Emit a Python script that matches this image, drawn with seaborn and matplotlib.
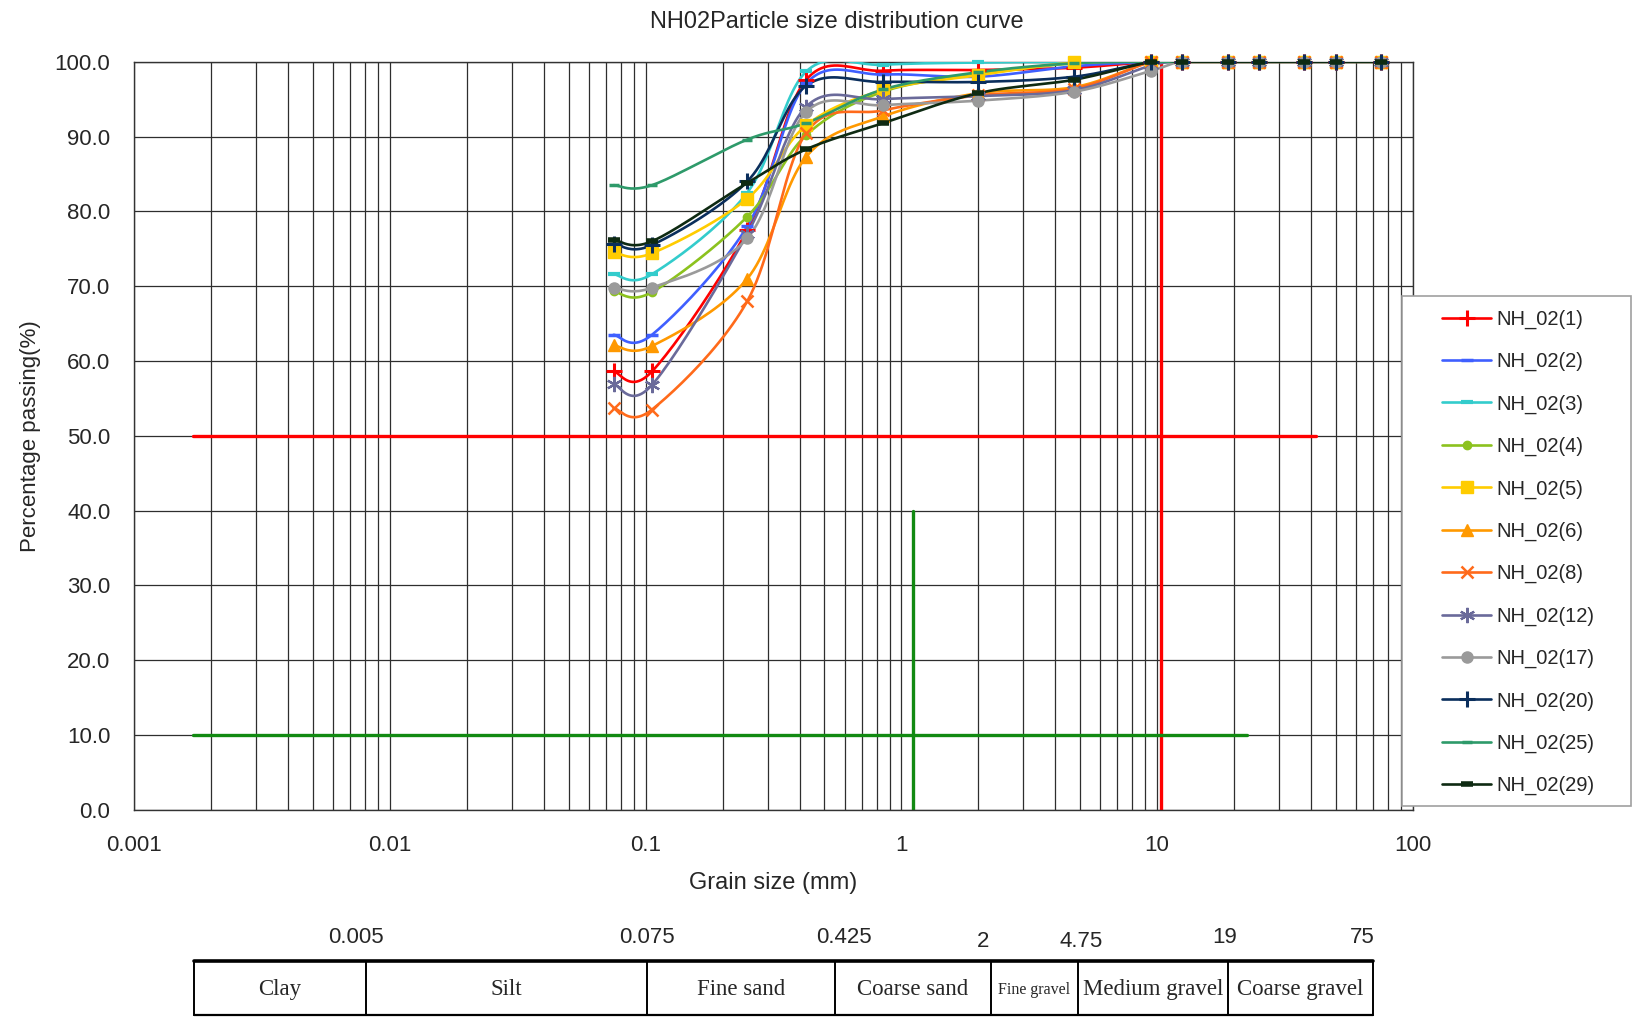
import numpy as np
import pandas as pd
import matplotlib
matplotlib.use("Agg")
import matplotlib.pyplot as plt
from matplotlib.lines import Line2D
from matplotlib.patches import Rectangle
from matplotlib.ticker import FixedLocator, FixedFormatter, NullFormatter
import seaborn as sns

# ---------------- data ----------------
sieve_mm = [0.075, 0.106, 0.25, 0.425, 0.85, 2, 4.75, 9.5, 12.5, 19, 25, 37.5, 50, 75]

samples = ["NH_02(1)", "NH_02(2)", "NH_02(3)", "NH_02(4)", "NH_02(5)", "NH_02(6)",
           "NH_02(8)", "NH_02(12)", "NH_02(17)", "NH_02(20)", "NH_02(25)", "NH_02(29)"]

nh02_1 = [58.6, 58.6, 77.5, 97.6, 98.8, 98.9, 99.2, 100, 100, 100, 100, 100, 100, 100]
nh02_2 = [63.5, 63.5, 78.0, 97.1, 98.3, 98.0, 99.4, 100, 100, 100, 100, 100, 100, 100]
nh02_3 = [71.6, 71.6, 82.5, 98.7, 99.6, 99.9, 100, 100, 100, 100, 100, 100, 100, 100]
nh02_4 = [69.3, 69.2, 79.3, 90.2, 96.0, 98.3, 99.8, 100, 100, 100, 100, 100, 100, 100]
nh02_5 = [74.5, 74.4, 81.7, 91.5, 96.2, 98.2, 99.9, 100, 100, 100, 100, 100, 100, 100]
nh02_6 = [62.1, 62.0, 71.0, 87.3, 92.7, 95.8, 96.6, 100, 100, 100, 100, 100, 100, 100]
nh02_8 = [53.7, 53.5, 68.0, 90.5, 93.5, 95.5, 96.4, 100, 100, 100, 100, 100, 100, 100]
nh02_12 = [56.9, 56.8, 77.0, 94.0, 95.0, 95.4, 96.2, 99.5, 100, 100, 100, 100, 100, 100]
nh02_17 = [69.8, 69.8, 76.4, 93.3, 94.2, 94.8, 96.0, 98.8, 100, 100, 100, 100, 100, 100]
nh02_20 = [75.7, 75.5, 84.0, 96.8, 97.3, 97.3, 98.0, 100, 100, 100, 100, 100, 100, 100]
nh02_25 = [83.5, 83.5, 89.6, 91.8, 96.3, 98.6, 99.8, 100, 100, 100, 100, 100, 100, 100]
nh02_29 = [76.2, 76.0, 83.8, 88.3, 91.8, 95.8, 97.6, 100, 100, 100, 100, 100, 100, 100]

passing = [nh02_1, nh02_2, nh02_3, nh02_4, nh02_5, nh02_6,
           nh02_8, nh02_12, nh02_17, nh02_20, nh02_25, nh02_29]

# D50 / D10 guide lines (grain size, percent)
d50_h = ([0.0017, 42.0], [50, 50])
d50_v = ([10.4, 10.4], [0, 100])
d10_h = ([0.0017, 22.5], [10, 10])
d10_v = ([1.107, 1.107], [0, 40])

x_tick_vals = [0.001, 0.01, 0.1, 1, 10, 100]
x_tick_labels = ["0.001", "0.01", "0.1", "1", "10", "100"]
y_tick_vals = [0, 10, 20, 30, 40, 50, 60, 70, 80, 90, 100]

class_bounds = ["0.005", "0.075", "0.425", "2", "4.75", "19", "75"]
class_names = ["Clay", "Silt", "Fine sand", "Coarse sand", "Fine gravel",
               "Medium gravel", "Coarse gravel"]

# ---------------- styles ----------------
colors = ["#FF0000", "#3F5FFF", "#33CCCC", "#8CC21E", "#FFCC00", "#FF9900",
          "#FF6A1A", "#6A6A9A", "#9A9A9A", "#0A2E5C", "#2E9A6A", "#0E2A12"]
markers = ["+", "_", "_", "o", "s", "^", "x", (6, 2, 0), "o", "+", "_", "_"]
msizes = [11, 8, 9, 6, 8, 8, 9, 11, 8, 11, 7, 9]
mews = [2.2, 2.5, 3.0, 1.0, 1.0, 1.0, 1.8, 1.6, 1.0, 2.2, 2.5, 4.0]

sns.set_style("white")
plt.rcParams["font.family"] = ["Liberation Sans", "DejaVu Sans"]

W, H = 1568, 972  # layout reference grid
fig = plt.figure(figsize=(16.41, 10.17), dpi=100)
ax = fig.add_axes([128 / W, 1 - 774 / H, (1350 - 128) / W, (774 - 59) / H])


def smooth_path(xs, ys, n=24):
    """Bezier smoothing through the points in (log x, y) space."""
    pts = np.column_stack([np.log10(xs), np.asarray(ys, float)])
    out = [pts[0]]
    t = np.linspace(0, 1, n)[1:, None]
    for i in range(len(pts) - 1):
        p0 = pts[max(i - 1, 0)]
        p1 = pts[i]
        p2 = pts[i + 1]
        p3 = pts[min(i + 2, len(pts) - 1)]
        c1 = p1 + (p2 - p0) / 6
        c2 = p2 - (p3 - p1) / 6
        seg = (1 - t) ** 3 * p1 + 3 * (1 - t) ** 2 * t * c1 + 3 * (1 - t) * t ** 2 * c2 + t ** 3 * p2
        out.extend(seg)
    out = np.array(out)
    return 10 ** out[:, 0], out[:, 1]


frames = []
for name, vals in zip(samples, passing):
    sx, sy = smooth_path(sieve_mm, vals)
    frames.append(pd.DataFrame({"size": sx, "pct": sy, "sample": name,
                                "order": np.arange(len(sx))}))
curves = pd.concat(frames, ignore_index=True)

# grid
ax.set_xscale("log")
ax.set_xlim(0.001, 100)
ax.set_ylim(0, 100)
minor = [m * 10.0 ** e for e in range(-3, 2) for m in range(2, 10)]
ax.xaxis.set_major_locator(FixedLocator(x_tick_vals))
ax.xaxis.set_major_formatter(FixedFormatter(x_tick_labels))
ax.xaxis.set_minor_locator(FixedLocator(minor))
ax.xaxis.set_minor_formatter(NullFormatter())
ax.set_yticks(y_tick_vals)
ax.set_yticklabels([f"{v:.1f}" for v in y_tick_vals])
ax.grid(which="both", axis="x", color="#2e2e2e", linewidth=0.9)
ax.grid(which="major", axis="y", color="#2e2e2e", linewidth=0.9)
ax.set_axisbelow(True)
for s in ax.spines.values():
    s.set_color("#333333")
    s.set_linewidth(1.0)
ax.tick_params(which="both", length=0, labelsize=16)
ax.tick_params(axis="x", pad=18)
ax.tick_params(axis="y", pad=17)

# guide lines
ax.plot(*d50_h, color="#FF0000", linewidth=2.4, zorder=2)
ax.plot(*d50_v, color="#FF0000", linewidth=2.4, zorder=2)
ax.plot(*d10_h, color="#128A12", linewidth=2.4, zorder=2)
ax.plot(*d10_v, color="#128A12", linewidth=2.4, zorder=2)

# smoothed curves
sns.lineplot(data=curves, x="size", y="pct", hue="sample", units="sample",
             estimator=None, sort=False, palette=dict(zip(samples, colors)),
             linewidth=1.9, legend=False, ax=ax, zorder=3)

# point markers
handles = []
for name, vals, c, m, ms, mw in zip(samples, passing, colors, markers, msizes, mews):
    ax.plot(sieve_mm, vals, linestyle="none", marker=m, markersize=ms,
            markeredgewidth=mw, color=c, markeredgecolor=c, zorder=4, clip_on=False)
    handles.append(Line2D([], [], color=c, linewidth=1.9, marker=m, markersize=ms,
                          markeredgewidth=mw, markeredgecolor=c, label=name))

fig.text(800 / W, 1 - 21 / H, "NH02Particle size distribution curve",
         ha="center", va="center", fontsize=17)
ax.set_xlabel("Grain size (mm)", fontsize=17, labelpad=12)
ax.set_ylabel("Percentage passing(%)", fontsize=16, labelpad=10)

# overlay axes for the legend box and the classification table
tab = fig.add_axes([0, 0, 1, 1])
tab.set_xlim(0, W)
tab.set_ylim(H, 0)
tab.axis("off")
tab.add_patch(Rectangle((1340, 283), 218, 487, facecolor="white",
                        edgecolor="#A0A0A0", linewidth=1.2))

leg = fig.legend(handles=handles, loc="upper left",
                 bbox_to_anchor=(1378 / W, 1 - 296 / H), fontsize=14.5,
                 frameon=False, labelspacing=1.15, handlelength=2.45,
                 handletextpad=0.25, borderpad=0, borderaxespad=0)

col_edges = [185, 350, 618, 798, 947, 1030, 1173, 1312]
top, bot = 918, 970
tab.plot([col_edges[0], col_edges[-1]], [top, top], color="black", linewidth=2.6)
tab.plot([col_edges[0], col_edges[-1]], [bot, bot], color="black", linewidth=1.6)
for xe in col_edges:
    tab.plot([xe, xe], [top, bot], color="black", linewidth=1.4)
for i, nm in enumerate(class_names):
    xc = (col_edges[i] + col_edges[i + 1]) / 2
    fs = 11.5 if nm == "Fine gravel" else 16.5
    tab.text(xc, (top + bot) / 2 + 2, nm, ha="center", va="center", fontsize=fs,
             family=["Liberation Serif", "DejaVu Serif"])
bound_pos = [(340, 896), (618, 896), (806, 896), (939, 900), (1033, 900),
             (1170, 896), (1302, 896)]
for lab, (bx, by) in zip(class_bounds, bound_pos):
    tab.text(bx, by, lab, ha="center", va="center", fontsize=16)

fig.savefig("out.png", dpi=100)
